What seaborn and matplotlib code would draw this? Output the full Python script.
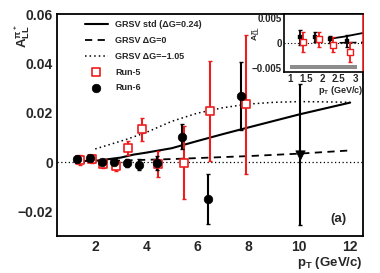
import numpy as np
import pandas as pd
import matplotlib
matplotlib.use("Agg")
import matplotlib.pyplot as plt
import seaborn as sns
from matplotlib.ticker import MultipleLocator

sns.set_style("white")
plt.rcParams['font.family'] = ['Liberation Sans', 'DejaVu Sans']
plt.rcParams['font.weight'] = 'bold'
plt.rcParams['mathtext.fontset'] = 'custom'
plt.rcParams['mathtext.rm'] = 'Liberation Sans:bold'
plt.rcParams['mathtext.it'] = 'Liberation Sans:bold'
plt.rcParams['mathtext.bf'] = 'Liberation Sans:bold'

# ---------------- data ----------------
# Run-5 (red open squares)
run5_pt = [1.41, 1.87, 2.30, 2.82, 3.30, 3.83, 4.48, 5.49, 6.50, 7.91]
run5_all = [0.0007, 0.0012, -0.0008, -0.0015, 0.0057, 0.0132, -0.0008, -0.0002, 0.0207, 0.0234]
run5_err = [0.0020, 0.0015, 0.0015, 0.0020, 0.0030, 0.0046, 0.0054, 0.0148, 0.0203, 0.0281]

# Run-6 (black filled circles)
run6_pt = [1.28, 1.80, 2.26, 2.72, 3.24, 3.72, 4.41, 5.39, 6.41, 7.71]
run6_all = [0.0012, 0.0016, 0.0002, 0.0000, -0.0004, -0.0011, -0.0004, 0.0102, -0.0151, 0.0268]
run6_err = [0.0012, 0.0010, 0.0008, 0.0012, 0.0015, 0.0022, 0.0030, 0.0051, 0.0102, 0.0138]
run6_hi_pt = [10.02]
run6_hi_all = [0.0030]
run6_hi_err = [0.0287]

# Theory curves
std_pt = [1.2, 2.1, 3.0, 3.5, 4.0, 5.0, 6.0, 7.0, 8.0, 10.0, 12.0]
std_all = [0.0003, 0.0006, 0.0018, 0.0030, 0.0038, 0.0056, 0.0085, 0.0113, 0.0140, 0.0193, 0.0241]
zero_pt = [1.2, 2.0, 3.0, 4.0, 5.0, 6.0, 8.0, 10.0, 12.0]
zero_all = [0.0000, 0.0003, 0.0006, 0.0009, 0.0012, 0.0016, 0.0024, 0.0034, 0.0047]
neg_pt = [2.0, 3.2, 4.0, 5.0, 6.0, 7.0, 8.0, 9.0, 10.0, 11.0, 12.0]
neg_all = [0.0053, 0.0091, 0.0120, 0.0165, 0.0198, 0.0220, 0.0235, 0.0242, 0.0245, 0.0244, 0.0242]

# Inset data
in6_pt = [1.31, 1.77, 2.23, 2.74]
in6_all = [0.0012, 0.0013, 0.0008, 0.0005]
in6_err = [0.0015, 0.0010, 0.0007, 0.0012]
in5_pt = [1.41, 1.89, 2.33, 2.84]
in5_all = [0.0003, 0.0008, -0.0003, -0.0017]
in5_err = [0.0020, 0.0015, 0.0015, 0.0020]
in_std_pt = [2.2, 2.7, 3.25]
in_std_all = [0.0009, 0.0014, 0.0021]
in_zero_pt = [2.2, 3.25]
in_zero_all = [0.0001, 0.0002]
sys_pt = [1.0, 3.07]
sys_lo = [-0.0051, -0.0051]
sys_hi = [-0.0043, -0.0043]

legend_labels = ["GRSV std (\u0394G=0.24)", "GRSV \u0394G=0", "GRSV \u0394G=\u22121.05", "Run-5", "Run-6"]

RED = "#ee1c1c"

fig = plt.figure(figsize=(3.8, 2.73), dpi=100)
ax = fig.add_axes([0.150, 0.1355, 0.805, 0.813])

ax.axhline(0, color="black", lw=0.9, ls=(0, (1, 2)), zorder=1)

sns.lineplot(x=std_pt, y=std_all, ax=ax, color="black", lw=1.5, label=legend_labels[0], zorder=2)
sns.lineplot(x=zero_pt, y=zero_all, ax=ax, color="black", lw=1.3, ls=(0, (4, 3)), label=legend_labels[1], zorder=2)
sns.lineplot(x=neg_pt, y=neg_all, ax=ax, color="black", lw=1.1, ls=(0, (1, 2)), label=legend_labels[2], zorder=2)

ax.errorbar(run5_pt, run5_all, yerr=run5_err, fmt="none", ecolor=RED, elinewidth=1.5, capsize=1.5, zorder=3)
ax.errorbar(run6_pt, run6_all, yerr=run6_err, fmt="none", ecolor="black", elinewidth=1.5, capsize=1.5, zorder=4)
ax.errorbar(run6_hi_pt, run6_hi_all, yerr=run6_hi_err, fmt="none", ecolor="black", elinewidth=1.5, capsize=1.5, zorder=4)

sns.scatterplot(x=run5_pt, y=run5_all, ax=ax, marker="s", s=38, facecolor="white",
                edgecolor=RED, linewidth=1.2, label=legend_labels[3], zorder=5)
sns.scatterplot(x=run6_pt, y=run6_all, ax=ax, marker="o", s=38, color="black",
                edgecolor="black", label=legend_labels[4], zorder=6)
sns.scatterplot(x=run6_hi_pt, y=run6_hi_all, ax=ax, marker="v", s=45, color="black",
                edgecolor="black", zorder=6)

ax.set_xlim(0.5, 12.5)
ax.set_ylim(-0.030, 0.060)
ax.xaxis.set_minor_locator(MultipleLocator(0.5))
ax.yaxis.set_minor_locator(MultipleLocator(0.005))
ax.set_xticks([2, 4, 6, 8, 10, 12])
ax.set_xticklabels(["2", "4", "6", "8", "10", "12"], fontsize=10, fontweight="bold")
ax.set_yticks([-0.02, 0, 0.02, 0.04, 0.06])
ax.set_yticklabels(["\u22120.02", "0", "0.02", "0.04", "0.06"], fontsize=10, fontweight="bold")
ax.tick_params(which="major", direction="in", length=6, width=1.0, pad=3)
ax.tick_params(which="minor", direction="in", length=3, width=0.8)
for s in ax.spines.values():
    s.set_linewidth(1.3)
    s.set_color("black")

fig.text(363 / 380, 1 - 263 / 273, r"$\mathregular{p_T}$ (GeV/c)", fontsize=9.5,
         fontweight="bold", ha="right", va="center")
fig.text(22 / 380, 1 - 36 / 273, r"$\mathregular{A_{LL}^{\pi^+}}$", fontsize=9.5,
         fontweight="bold", ha="center", va="center", rotation=90)

ax.text(11.55, -0.0232, "(a)", fontsize=9.5, fontweight="bold", ha="center", va="center")

leg = ax.legend(loc="upper left", bbox_to_anchor=(0.07, 1.0), frameon=False, fontsize=6.5,
                handlelength=2.6, labelspacing=0.75, borderaxespad=0.3, handletextpad=0.8)
for t in leg.get_texts():
    t.set_fontweight("bold")

# ---------------- inset ----------------
ins = fig.add_axes([0.747, 0.737, 0.208, 0.2117])
ins.set_facecolor("white")
ins.axhline(0, color="black", lw=0.8, ls=(0, (1, 2)), zorder=1)
ins.fill_between(sys_pt, sys_lo, sys_hi, color="#8c8c8c", lw=0, zorder=1)
sns.lineplot(x=in_std_pt, y=in_std_all, ax=ins, color="black", lw=1.3, zorder=2)
sns.lineplot(x=in_zero_pt, y=in_zero_all, ax=ins, color="black", lw=1.1, ls=(0, (4, 3)), zorder=2)
ins.errorbar(in6_pt, in6_all, yerr=in6_err, fmt="none", ecolor="black", elinewidth=1.3, capsize=1.2, zorder=3)
ins.errorbar(in5_pt, in5_all, yerr=in5_err, fmt="none", ecolor=RED, elinewidth=1.3, capsize=1.2, zorder=3)
sns.scatterplot(x=in6_pt, y=in6_all, ax=ins, marker="s", s=10, color="black", edgecolor="black", zorder=4)
sns.scatterplot(x=in5_pt, y=in5_all, ax=ins, marker="s", s=14, facecolor="white",
                edgecolor=RED, linewidth=1.0, zorder=5)
ins.set_xlim(0.82, 3.24)
ins.set_ylim(-0.0057, 0.0059)
ins.set_xticks([1, 1.5, 2, 2.5, 3])
ins.set_xticklabels(["1", "1.5", "2", "2.5", "3"], fontsize=7, fontweight="bold")
ins.set_yticks([-0.005, 0, 0.005])
ins.set_yticklabels(["\u22120.005", "0", "0.005"], fontsize=7, fontweight="bold")
ins.xaxis.set_minor_locator(MultipleLocator(0.25))
ins.tick_params(which="major", direction="in", length=3, width=0.8, pad=1.5)
ins.tick_params(which="minor", direction="in", length=1.5, width=0.6)
for s in ins.spines.values():
    s.set_linewidth(1.2)
    s.set_color("black")
ins.spines["right"].set_color(RED)
fig.text(363 / 380, 1 - 91 / 273, r"$\mathregular{p_T}$ (GeV/c)", fontsize=6.5,
         fontweight="bold", ha="right", va="center")
fig.text(257 / 380, 1 - 33 / 273, r"$\mathregular{A_{LL}^{\pi}}$", fontsize=6,
         fontweight="bold", ha="center", va="center", rotation=90)
if ins.get_legend() is not None:
    ins.get_legend().remove()

fig.savefig("out.png", dpi=100)
